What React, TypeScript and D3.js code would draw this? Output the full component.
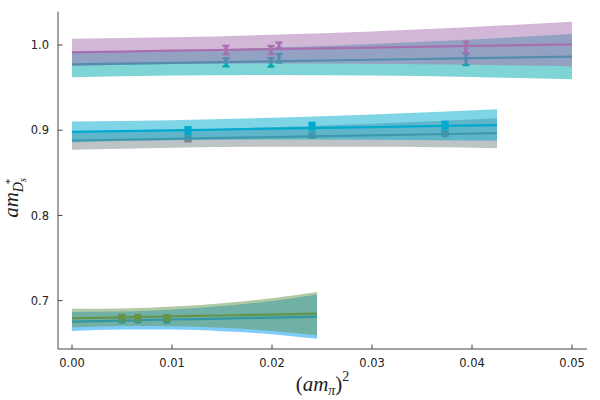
import React from 'react';
import * as d3 from 'd3';

// axis ticks
const xTicks = [0, 0.01, 0.02, 0.03, 0.04, 0.05];
const yTicks = [0.7, 0.8, 0.9, 1.0];

// top group: teal + purple
const topBandX = [0, 0.01, 0.02, 0.03, 0.04, 0.05];
const tealCenter = [0.9773, 0.9791, 0.9809, 0.9827, 0.9845, 0.9863];
const tealUpper = [0.9923, 0.9939, 0.9969, 1.0012, 1.0065, 1.0129];
const tealLower = [0.9623, 0.9643, 0.9649, 0.9642, 0.9625, 0.9597];
const purpleCenter = [0.9914, 0.9933, 0.9952, 0.997, 0.9989, 1.0008];
const purpleUpper = [1.0074, 1.009, 1.012, 1.016, 1.0211, 1.0273];
const purpleLower = [0.9754, 0.9776, 0.9784, 0.978, 0.9767, 0.975];
const topPtsX = [0.0154, 0.0199, 0.0207, 0.0394];
const tealPtsY = [0.9797, 0.9797, 0.9844, 0.9833];
const tealPtsErr = [0.0048, 0.005, 0.005, 0.0068];
const purplePtsY = [0.9941, 0.9941, 0.9996, 0.997];
const purplePtsErr = [0.005, 0.0048, 0.0033, 0.0068];

// middle group: gray + cyan
const midBandX = [0, 0.01, 0.02, 0.03, 0.0425];
const grayCenter = [0.8879, 0.8899, 0.892, 0.894, 0.8965];
const grayUpper = [0.8987, 0.9004, 0.9035, 0.9075, 0.9141];
const grayLower = [0.8771, 0.8794, 0.8805, 0.8805, 0.8789];
const cyanCenter = [0.898, 0.8999, 0.9018, 0.9037, 0.906];
const cyanUpper = [0.9102, 0.9117, 0.9146, 0.9185, 0.9245];
const cyanLower = [0.8858, 0.8881, 0.889, 0.8889, 0.8875];
const midPtsX = [0.0116, 0.024, 0.0373];
const grayPtsY = [0.89, 0.8941, 0.896];
const grayPtsErr = [0.003, 0.003, 0.003];
const cyanPtsY = [0.8996, 0.9047, 0.9059];
const cyanPtsErr = [0.004, 0.004, 0.004];

// bottom group: blue + green
const lowBandX = [0, 0.005, 0.01, 0.015, 0.02, 0.0245];
const blueCenter = [0.6754, 0.6766, 0.6778, 0.6789, 0.6801, 0.6812];
const blueUpper = [0.6866, 0.6871, 0.6896, 0.6937, 0.6996, 0.7072];
const blueLower = [0.6642, 0.6661, 0.666, 0.6641, 0.6606, 0.6552];
const greenCenter = [0.6793, 0.6804, 0.6815, 0.6825, 0.6836, 0.6847];
const greenUpper = [0.6903, 0.6907, 0.693, 0.697, 0.7028, 0.7102];
const greenLower = [0.6683, 0.6701, 0.67, 0.668, 0.6644, 0.6592];
const lowPtsX = [0.005, 0.0066, 0.0095];
const bluePtsY = [0.6776, 0.6776, 0.6774];
const bluePtsErr = [0.003, 0.003, 0.003];
const greenPtsY = [0.68, 0.68, 0.6798];
const greenPtsErr = [0.003, 0.003, 0.003];

type Marker = 'bar' | 'square' | 'circle';

interface Series {
  color: string;
  bx: number[];
  center: number[];
  upper: number[];
  lower: number[];
  px: number[];
  py: number[];
  pe: number[];
  marker: Marker;
}

// draw order matters: second of each pair sits on top
const series: Series[] = [
  { color: '#00a9ad', bx: topBandX, center: tealCenter, upper: tealUpper, lower: tealLower, px: topPtsX, py: tealPtsY, pe: tealPtsErr, marker: 'bar' },
  { color: '#a86fb0', bx: topBandX, center: purpleCenter, upper: purpleUpper, lower: purpleLower, px: topPtsX, py: purplePtsY, pe: purplePtsErr, marker: 'bar' },
  { color: '#7d878d', bx: midBandX, center: grayCenter, upper: grayUpper, lower: grayLower, px: midPtsX, py: grayPtsY, pe: grayPtsErr, marker: 'square' },
  { color: '#00a9cd', bx: midBandX, center: cyanCenter, upper: cyanUpper, lower: cyanLower, px: midPtsX, py: cyanPtsY, pe: cyanPtsErr, marker: 'square' },
  { color: '#009afa', bx: lowBandX, center: blueCenter, upper: blueUpper, lower: blueLower, px: lowPtsX, py: bluePtsY, pe: bluePtsErr, marker: 'circle' },
  { color: '#64944b', bx: lowBandX, center: greenCenter, upper: greenUpper, lower: greenLower, px: lowPtsX, py: greenPtsY, pe: greenPtsErr, marker: 'circle' },
];

const App: React.FC = () => {
  const left = 58;
  const right = 587;
  const top = 11.7;
  const bottom = 349;

  const x = d3.scaleLinear().domain([-0.0014, 0.0515]).range([left, right]);
  const y = d3.scaleLinear().domain([0.6432, 1.0391]).range([bottom, top]);

  const tickFont = { fontFamily: 'DejaVu Sans', fontSize: 11.5, fill: '#222' };

  return (
    <svg
      width={600}
      height={400}
      style={{ position: 'absolute', left: 0, top: 0, background: '#fff' }}
    >
      {series.map((s, i) => {
        const band = d3
          .area<number>()
          .x((_, j) => x(s.bx[j]))
          .y0((_, j) => y(s.lower[j]))
          .y1((_, j) => y(s.upper[j]))
          .curve(d3.curveMonotoneX);
        const line = d3
          .line<number>()
          .x((_, j) => x(s.bx[j]))
          .y((d) => y(d))
          .curve(d3.curveMonotoneX);
        return (
          <g key={i}>
            <path d={band(s.bx) ?? ''} fill={s.color} fillOpacity={0.5} />
            <path d={line(s.center) ?? ''} fill="none" stroke={s.color} strokeWidth={2.2} />
            {s.px.map((px, j) => {
              const cx = x(px);
              const y0 = y(s.py[j] - s.pe[j]);
              const y1 = y(s.py[j] + s.pe[j]);
              const cy = y(s.py[j]);
              return (
                <g key={j} stroke={s.color} fill={s.color}>
                  <line x1={cx} x2={cx} y1={y0} y2={y1} strokeWidth={s.marker === 'bar' ? 3.2 : 2} />
                  <line x1={cx - 3.5} x2={cx + 3.5} y1={y0} y2={y0} strokeWidth={2.2} />
                  <line x1={cx - 3.5} x2={cx + 3.5} y1={y1} y2={y1} strokeWidth={2.2} />
                  {s.marker === 'square' && (
                    <rect x={cx - 3.5} y={cy - 3.5} width={7} height={7} stroke="none" />
                  )}
                  {s.marker === 'circle' && <circle cx={cx} cy={cy} r={4} stroke="none" />}
                </g>
              );
            })}
          </g>
        );
      })}

      {/* axes */}
      <line x1={left} x2={left} y1={top} y2={bottom} stroke="#444" strokeWidth={1} />
      <line x1={left} x2={right} y1={bottom} y2={bottom} stroke="#444" strokeWidth={1} />

      {xTicks.map((t) => (
        <g key={t}>
          <line x1={x(t)} x2={x(t)} y1={bottom} y2={bottom - 4.5} stroke="#444" />
          <text x={x(t)} y={367} textAnchor="middle" {...tickFont}>
            {t.toFixed(2)}
          </text>
        </g>
      ))}
      {yTicks.map((t) => (
        <g key={t}>
          <line x1={left} x2={left + 4.5} y1={y(t)} y2={y(t)} stroke="#444" />
          <text x={49} y={y(t) + 4.2} textAnchor="end" {...tickFont}>
            {t.toFixed(1)}
          </text>
        </g>
      ))}

      {/* axis labels */}
      <text
        x={(left + right) / 2}
        y={391}
        textAnchor="middle"
        fontFamily="Liberation Serif"
        fontSize={21}
        fill="#222"
      >
        <tspan>(</tspan>
        <tspan fontStyle="italic">am</tspan>
        <tspan fontStyle="italic" fontSize={14} dy={4}>π</tspan>
        <tspan dy={-4}>)</tspan>
        <tspan fontSize={14} dy={-10}>2</tspan>
      </text>

      <text
        transform="translate(18,198) rotate(-90)"
        textAnchor="middle"
        fontFamily="Liberation Serif"
        fontSize={21}
        fill="#222"
      >
        <tspan fontStyle="italic">am</tspan>
        <tspan fontStyle="italic" fontSize={14} dy={5}>D</tspan>
        <tspan fontStyle="italic" fontSize={10} dy={3}>s</tspan>
        <tspan fontSize={11} dx={-6} dy={-13}>*</tspan>
      </text>
    </svg>
  );
};

export default App;
